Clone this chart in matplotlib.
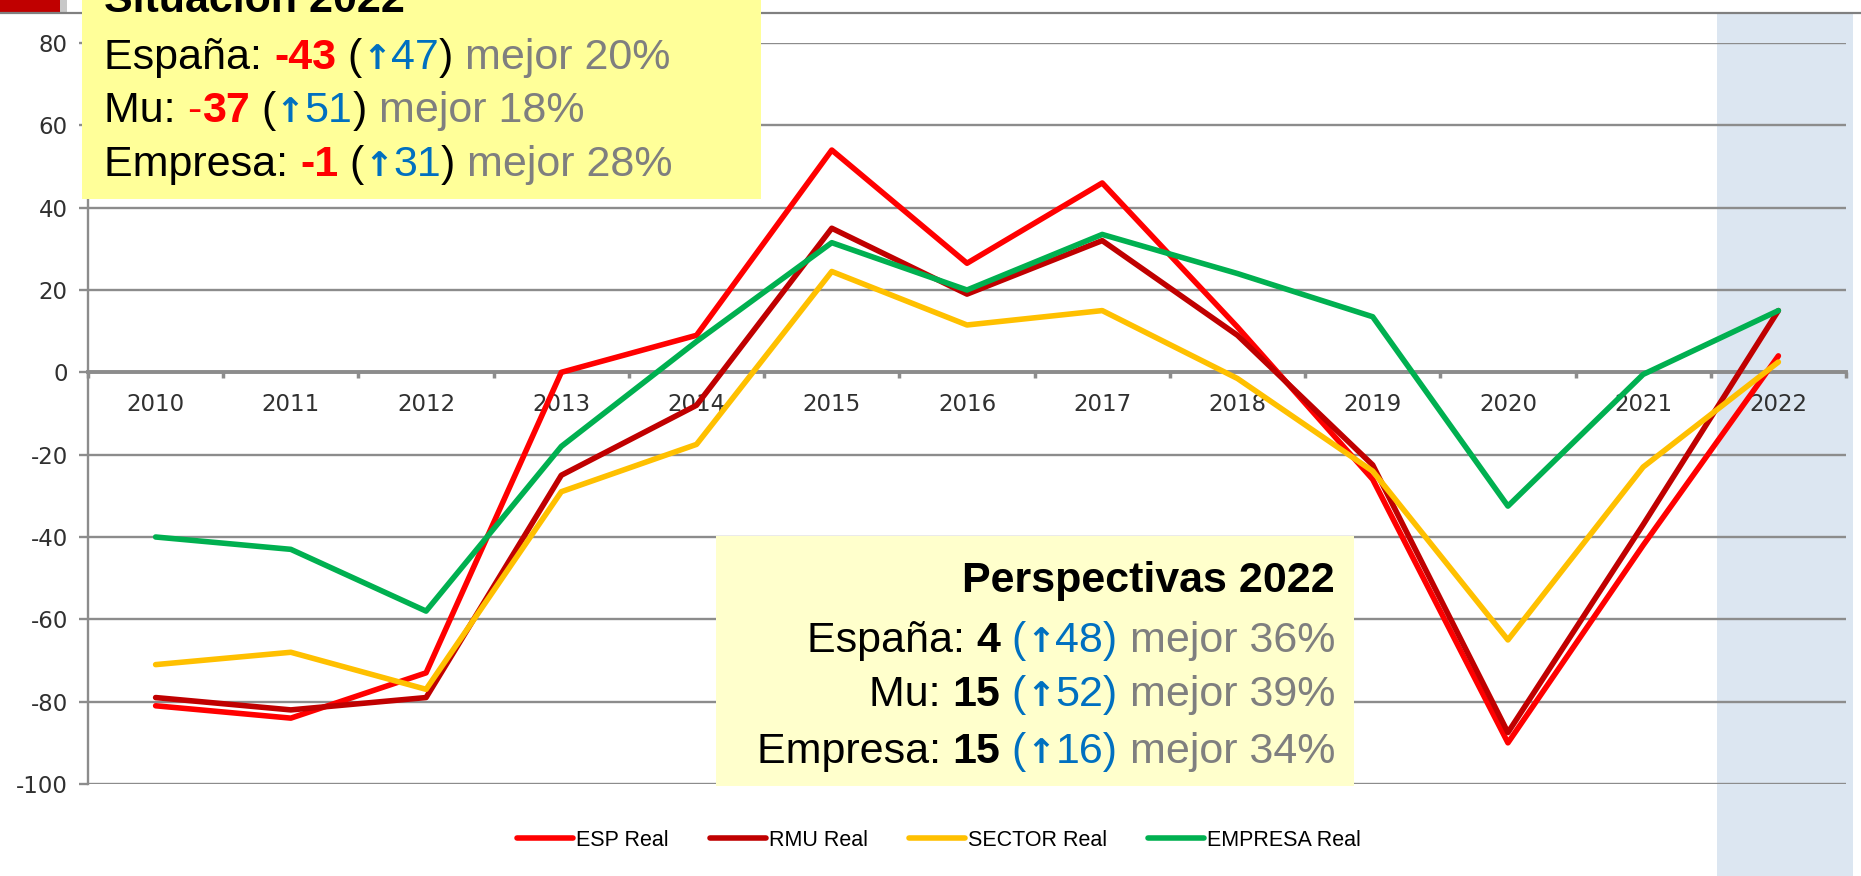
import matplotlib.pyplot as plt
from matplotlib.patches import Rectangle
from matplotlib.lines import Line2D
from matplotlib import font_manager
import numpy as np

plt.rcParams["axes.unicode_minus"] = False

# datos
years = ["2010", "2011", "2012", "2013", "2014", "2015", "2016",
         "2017", "2018", "2019", "2020", "2021", "2022"]
esp_real = [-81, -84, -73, 0, 9, 54, 26.5, 46, 11, -26, -90, -42, 4]
rmu_real = [-79, -82, -79, -25, -8, 35, 19, 32, 9, -22.5, -87.5, -37, 15]
sector_real = [-71, -68, -77, -29, -17.5, 24.5, 11.5, 15, -1.5, -24, -65, -23, 2.5]
empresa_real = [-40, -43, -58, -18, 7.5, 31.5, 20, 33.5, 24, 13.5, -32.5, -0.5, 15]

series_names = ["ESP Real", "RMU Real", "SECTOR Real", "EMPRESA Real"]
series_colors = ["#FF0000", "#C00000", "#FFC000", "#00B050"]

RED = "#FF0000"
BLUE = "#0070C0"
GRAY = "#7F7F7F"
BLACK = "#000000"

# textos de los recuadros: (texto, color, negrita)
situacion_lines = [
    [("Situación 2022", BLACK, True)],
    [("España: ", BLACK, False), ("-43", RED, True), (" (", BLACK, False),
     ("↑", BLUE, True), ("47", BLUE, False), (")", BLACK, False), (" mejor 20%", GRAY, False)],
    [("Mu: ", BLACK, False), ("-", RED, False), ("37", RED, True), (" (", BLACK, False),
     ("↑", BLUE, True), ("51", BLUE, False), (")", BLACK, False), (" mejor 18%", GRAY, False)],
    [("Empresa: ", BLACK, False), ("-1", RED, True), (" (", BLACK, False),
     ("↑", BLUE, True), ("31", BLUE, False), (")", BLACK, False), (" mejor 28%", GRAY, False)],
]
perspectivas_lines = [
    [("Perspectivas 2022", BLACK, True)],
    [("España: ", BLACK, False), ("4", BLACK, True), (" (", BLUE, False),
     ("↑", BLUE, True), ("48)", BLUE, False), (" mejor 36%", GRAY, False)],
    [("Mu: ", BLACK, False), ("15", BLACK, True), (" (", BLUE, False),
     ("↑", BLUE, True), ("52)", BLUE, False), (" mejor 39%", GRAY, False)],
    [("Empresa: ", BLACK, False), ("15", BLACK, True), (" (", BLUE, False),
     ("↑", BLUE, True), ("16)", BLUE, False), (" mejor 34%", GRAY, False)],
]

# fuente estrecha parecida a Calibri
box_font = "Liberation Sans"
for name in ["Liberation Sans Narrow", "Liberation Sans"]:
    try:
        font_manager.findfont(name, fallback_to_default=False)
        box_font = name
        break
    except Exception:
        pass
box_family = [box_font, "DejaVu Sans"]

W, H = 1861, 876
fig = plt.figure(figsize=(W / 100, H / 100), dpi=100)


def px_rect(x0, y0, x1, y1, **kw):
    return Rectangle((x0 / W, 1 - y1 / H), (x1 - x0) / W, (y1 - y0) / H,
                     transform=fig.transFigure, **kw)


# franja azul de 2022
fig.add_artist(px_rect(1717, 14, 1853, 876, facecolor="#DCE6F1", edgecolor="none", zorder=-5))

ax = fig.add_axes([88 / W, 1 - 784 / H, (1846 - 88) / W, (784 - 43) / H])
ax.patch.set_alpha(0)
x = np.arange(len(years))
for vals, name, col in zip([esp_real, rmu_real, sector_real, empresa_real], series_names, series_colors):
    ax.plot(x, vals, color=col, lw=4.0, label=name, solid_capstyle="round",
            solid_joinstyle="round", zorder=3)

ax.set_xlim(-0.5, 12.5)
ax.set_ylim(-100, 80)
ax.set_yticks(range(-100, 81, 20))
ax.yaxis.grid(True, color="#8C8C8C", lw=1.7)
ax.set_axisbelow(True)
for s in ["top", "right"]:
    ax.spines[s].set_visible(False)
ax.spines["left"].set_color("#8C8C8C")
ax.spines["left"].set_linewidth(1.7)
ax.spines["bottom"].set_position(("data", 0))
ax.spines["bottom"].set_color("#8C8C8C")
ax.spines["bottom"].set_linewidth(2.8)

ax.set_xticks(x)
ax.set_xticklabels(years)
ax.set_xticks(np.arange(-0.5, 13, 1), minor=True)
ax.tick_params(axis="x", which="major", length=0, pad=15, labelsize=16.5, labelcolor="#303030")
ax.tick_params(axis="x", which="minor", length=4, width=2.5, color="#8C8C8C", direction="out")
ax.tick_params(axis="y", length=6.5, width=1.7, color="#8C8C8C", pad=8, labelsize=16.5,
               labelcolor="#303030")

ax.legend(loc="center", bbox_to_anchor=(939 / W, 1 - 840 / H), bbox_transform=fig.transFigure,
          ncol=4, frameon=False, handlelength=2.6, handletextpad=0.15, columnspacing=1.9,
          prop={"family": box_family, "size": 15.5})

# logo y linea superior
fig.add_artist(px_rect(0, 0, 60, 12, facecolor="#C00000", edgecolor="none", zorder=4))
fig.add_artist(px_rect(60, 0, 67, 12, facecolor="#C8C8C8", edgecolor="none", zorder=4))
fig.add_artist(Line2D([0, 1], [1 - 13 / H, 1 - 13 / H], transform=fig.transFigure,
                      color="#808080", lw=1.6, zorder=4))

# recuadros amarillos
fig.add_artist(px_rect(82, -5, 761, 199, facecolor="#FFFF99", edgecolor="none", zorder=5))
fig.add_artist(px_rect(716, 536, 1354, 786, facecolor="#FFFFCC", edgecolor="none", zorder=5))

renderer = fig.canvas.get_renderer()
FS = 31


def run_props(s, bold):
    if s == "↑":
        return dict(family=["DejaVu Sans"], fontsize=FS * 0.8, fontweight="bold")
    return dict(family=box_family, fontsize=FS, fontweight="bold" if bold else "normal")


def run_width(s, bold):
    t = fig.text(0, 0, "x" + s + "x", **run_props(s, bold))
    w1 = t.get_window_extent(renderer).width
    t.set_text("xx")
    w2 = t.get_window_extent(renderer).width
    t.remove()
    return w1 - w2


def draw_runs(runs, xpx, ypx, align="left"):
    widths = [run_width(s, b) for s, c, b in runs]
    start = xpx if align == "left" else xpx - sum(widths)
    for (s, c, b), w in zip(runs, widths):
        fig.text(start / W, 1 - ypx / H, s, color=c, va="baseline", ha="left", zorder=6,
                 **run_props(s, b))
        start += w


for runs, yb in zip(situacion_lines, [12, 69, 122, 176]):
    draw_runs(runs, 104, yb)
for runs, yb in zip(perspectivas_lines, [592, 652, 706, 763]):
    draw_runs(runs, 1335, yb, align="right")

fig.savefig("out.png", dpi=100)
